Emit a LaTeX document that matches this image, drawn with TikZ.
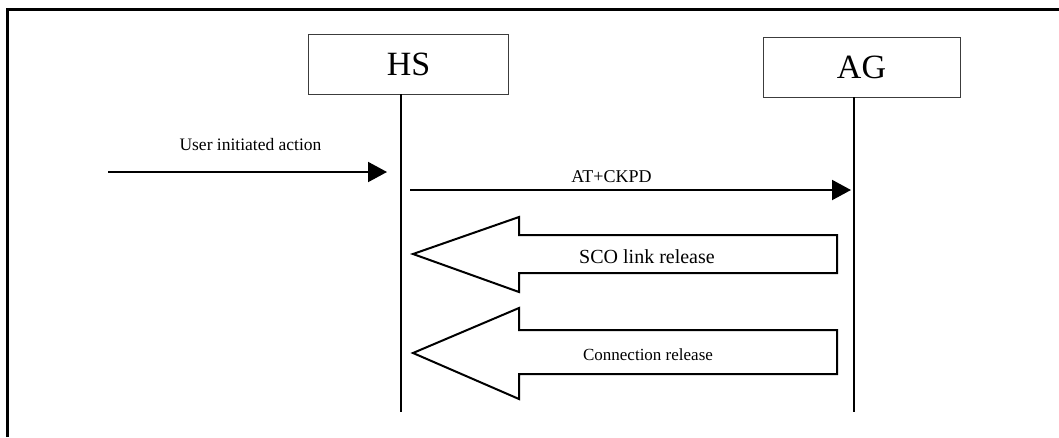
\documentclass[tikz,border=0pt]{standalone}
\usepackage{fontspec}
\setmainfont{Liberation Serif}
\usepackage{tikz}
\usetikzlibrary{arrows.meta, positioning, calc}
\definecolor{boxline}{RGB}{60,60,60}

\begin{document}
\begin{tikzpicture}[
    x=1pt, y=-1pt,
    actor/.style={rectangle, draw=boxline, line width=1pt, minimum width=200pt, minimum height=60pt, inner sep=0pt, font=\fontsize{34}{40}\selectfont},
    lifeline/.style={line width=2pt},
    msg/.style={-{Triangle[length=19pt, width=20pt]}, line width=2pt},
    msglabel/.style={font=\fontsize{17.5}{21}\selectfont, inner sep=0pt},
    bigarrow/.style={line width=2pt, line join=miter},
    biglabel/.style={inner sep=0pt}
]
\useasboundingbox (0,0) rectangle (1059,437);
\draw[line width=3pt] (7,437) -- (7,9) -- (1059,9);

% actors
\node[actor] (hs) at (408.5,64.5) {HS};
\node[actor, minimum width=197pt] (ag) at (861.5,67) {AG};

\coordinate (hsTop) at (401,94);
\coordinate (hsBot) at (401,412);
\coordinate (agTop) at (854,97);
\coordinate (agBot) at (854,412);
\draw[lifeline] (hsTop) -- (hsBot);
\draw[lifeline] (agTop) -- (agBot);

% messages
\coordinate (user) at (108,172);
\draw[msg, shorten >=14pt] (user) -- (hsTop |- user) node[msglabel, midway, above=20pt, xshift=-4pt] (userlbl) {User initiated action};

\coordinate (ckpdL) at (hsTop |- 0,190);
\coordinate (ckpdR) at (agTop |- 0,190);
\draw[msg, shorten <=9pt, shorten >=3pt] (ckpdL) -- (ckpdR) node[msglabel, font=\fontsize{18}{21}\selectfont, midway, above=6pt, xshift=-16pt] (ckpdlbl) {AT+CKPD};

% releases
\coordinate (scoTip) at ($(hsTop |- 0,254)+(12,0)$);
\coordinate (scoEnd) at ($(agTop |- 0,254)+(-17,0)$);
\draw[bigarrow] (scoTip) -- ++(106,-37) -- ++(0,18) -- (scoEnd |- 0,235) -- (scoEnd |- 0,273) -- ($(scoTip)+(106,19)$) -- ++(0,19) -- cycle;
\node[biglabel, font=\fontsize{20}{24}\selectfont] (scolbl) at (647,257) {SCO link release};

\coordinate (relTip) at ($(hsTop |- 0,353)+(12,0)$);
\coordinate (relEnd) at ($(agTop |- 0,353)+(-17,0)$);
\draw[bigarrow] (relTip) -- ++(106,-45) -- ++(0,22) -- (relEnd |- 0,330) -- (relEnd |- 0,374) -- ($(relTip)+(106,21)$) -- ++(0,25) -- cycle;
\node[biglabel, font=\fontsize{17}{20}\selectfont] (rellbl) at (648,355) {Connection release};
\end{tikzpicture}
\end{document}
